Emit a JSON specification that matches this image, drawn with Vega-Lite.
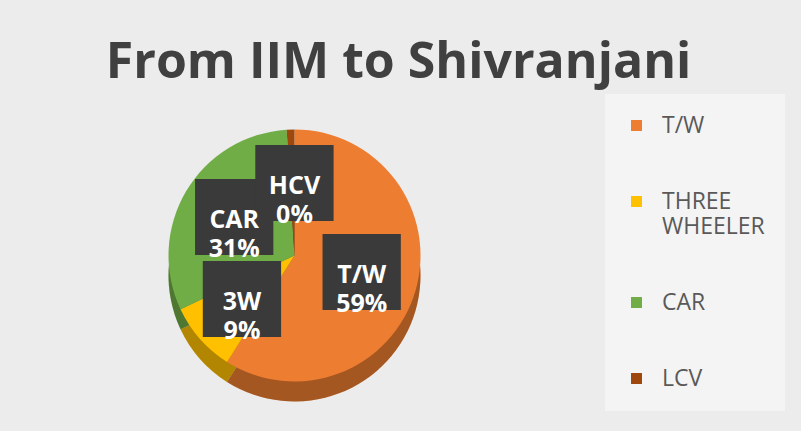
{
  "$schema": "https://vega.github.io/schema/vega-lite/v6.json",
  "width": 801,
  "height": 431,
  "autosize": {"type": "fit", "contains": "padding"},
  "padding": {"left": 12, "top": 38, "right": 16, "bottom": 14},
  "background": "#ececec",
  "title": {
    "text": "From IIM to Shivranjani",
    "font": "Open Sans",
    "fontSize": 50,
    "fontWeight": "bold",
    "color": "#404040",
    "anchor": "middle",
    "frame": "bounds",
    "offset": 6
  },
  "data": {
    "values": [
      {"cat": "T/W", "lab": "T/W\n59%", "pct": 59, "ord": 1},
      {"cat": "THREE WHEELER", "lab": "3W\n9%", "pct": 9, "ord": 2},
      {"cat": "CAR", "lab": "CAR\n31%", "pct": 31, "ord": 3},
      {"cat": "LCV", "lab": "", "pct": 1, "ord": 4},
      {"cat": "HCV", "lab": "HCV\n0%", "pct": 0, "ord": 5}
    ]
  },
  "encoding": {
    "theta": {"field": "pct", "type": "quantitative", "stack": true},
    "order": {"field": "ord", "type": "quantitative"},
    "color": {
      "field": "cat",
      "type": "nominal",
      "scale": {
        "domain": ["T/W", "THREE WHEELER", "CAR", "LCV", "HCV"],
        "range": ["#ED7D31", "#FFC000", "#70AD47", "#9E480E", "#7F6000"]
      },
      "legend": {
        "title": null,
        "orient": "right",
        "values": ["T/W", "THREE WHEELER", "CAR", "LCV"],
        "symbolType": "square",
        "symbolSize": 120,
        "symbolStrokeWidth": 0,
        "labelFont": "Open Sans",
        "labelFontSize": 23,
        "labelColor": "#595959",
        "labelExpr": "datum.label == 'THREE WHEELER' ? ['THREE', 'WHEELER'] : datum.label",
        "labelBaseline": "middle",
        "rowPadding": 52,
        "padding": 20,
        "fillColor": "#f4f4f4",
        "labelOffset": 14,
        "offset": 28
      }
    }
  },
  "layer": [
    {"mark": {"type": "arc", "outerRadius": 126, "yOffset": 20}},
    {
      "mark": {"type": "arc", "outerRadius": 126, "yOffset": 20, "fillOpacity": 0.3},
      "encoding": {"color": {"value": "#000000"}}
    },
    {"mark": {"type": "arc", "outerRadius": 126}},
    {
      "mark": {"type": "text", "radius": 70, "font": "DejaVu Sans Mono", "fontSize": 64, "baseline": "middle"},
      "encoding": {
        "text": {"condition": {"test": "datum.lab != ''", "value": "██"}, "value": ""},
        "color": {"value": "#3a3a3a"}
      }
    },
    {
      "mark": {"type": "text", "radius": 70, "font": "Open Sans", "fontSize": 25, "fontWeight": "bold", "lineBreak": "\n", "lineHeight": 29, "baseline": "middle"},
      "encoding": {
        "text": {"field": "lab", "type": "nominal"},
        "color": {"value": "#ffffff"}
      }
    }
  ]
}
